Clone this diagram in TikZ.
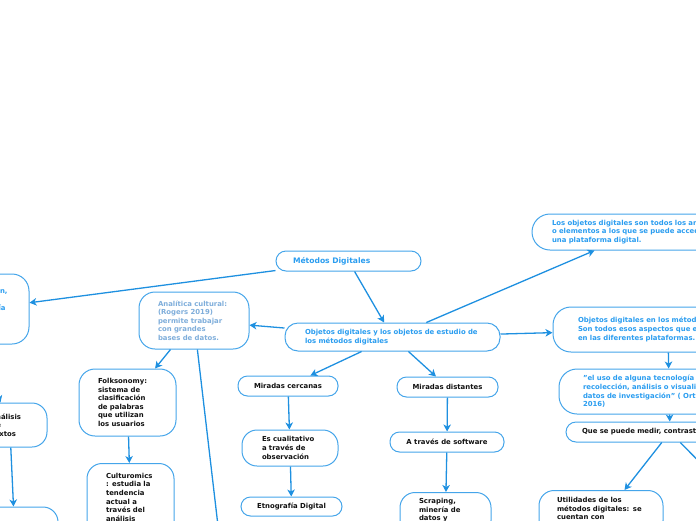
\documentclass[tikz,border=0pt]{standalone}
\usepackage{fontspec}
\setmainfont{DejaVu Sans}
\usepackage{tikz}
\usetikzlibrary{arrows.meta}
\definecolor{mmEdge}{HTML}{1E90E0}
\definecolor{mmBorder}{HTML}{45A5EA}
\definecolor{mmBlue}{HTML}{2A9DF0}
\definecolor{mmPale}{HTML}{7FAEDB}
\definecolor{mmInk}{HTML}{111111}
\newcommand{\mmsize}{\fontsize{6.9}{8.6}\selectfont\bfseries}
\tikzset{
  mmbox/.style={rectangle, rounded corners=#1, draw=mmBorder, line width=1pt,
                fill=white, text=mmInk, font=\mmsize, inner sep=0pt, align=left},
  mmbox/.default=15pt,
  mmflow/.style={-{Stealth[length=7pt, width=7.5pt, inset=2pt]}, line width=1.3pt, color=mmEdge},
  mmline/.style={line width=1.3pt, color=mmEdge},
}

\begin{document}
\begin{tikzpicture}[x=1pt, y=-1pt,
  pill/.style={mmbox=9.5pt, minimum height=20pt, align=center},
  cutbox/.style={mmbox=15pt, anchor=north}]
  \useasboundingbox (0,0) rectangle (696,520);
  \clip (0,0) rectangle (696,520);
  \node[mmbox=10pt, minimum width=145pt, minimum height=20pt, text width=111pt, text=mmBlue,
        font=\fontsize{7.6}{9}\selectfont\bfseries] (metodos) at (348.5,261) {Métodos Digitales};
  \node[mmbox=13pt, minimum width=215pt, minimum height=28pt, text width=175pt, text=mmBlue]
        (objetos) at (392.5,337) {Objetos digitales y los objetos de estudio de\\los métodos digitales};
  \node[mmbox=17pt, minimum width=95pt, minimum height=70pt, text width=57pt, text=mmBlue]
        (campo) at (-18.5,309) {investigación,\\\strut\\de etnografía\\\strut\\\strut};
  \node[mmbox=15pt, minimum width=74.5pt, minimum height=44pt, text width=36.5pt]
        (textos) at (9.75,425) {análisis\\de\\textos};
  \node[mmbox=15pt, minimum width=118pt, minimum height=73pt] (fuentes) at (-1,543.5) {};
  \node[mmbox=16pt, minimum width=110pt, minimum height=57pt, text width=72pt, text=mmPale]
        (analitica) at (194,320.5) {Analítica cultural:\\(Rogers 2019)\\permite trabajar\\con grandes\\bases de datos.};
  \node[mmbox=16pt, minimum width=97pt, minimum height=67pt, text width=59pt]
        (folk) at (127.5,402.5) {Folksonomy:\\sistema de\\clasificación\\de palabras\\que utilizan\\los usuarios};
  \node[cutbox, minimum width=87pt, text width=49pt, inner ysep=9.5pt]
        (cultur) at (130.5,463) {Culturomics\\: estudia la\\tendencia\\actual a\\través del\\análisis\\de datos};
  \node[pill, minimum width=100pt] (cercanas) at (288,386) {Miradas cercanas};
  \node[mmbox=15pt, minimum width=96pt, minimum height=36pt, text width=56pt]
        (cualitativo) at (290,448) {Es cualitativo\\a través de\\observación};
  \node[pill, minimum width=101pt, minimum height=19pt] (etno) at (291.5,506.5) {Etnografía Digital};
  \node[pill, minimum width=101pt] (distantes) at (447.5,387) {Miradas distantes};
  \node[pill, minimum width=114pt] (software) at (447,442) {A través de software};
  \node[cutbox, minimum width=91pt, text width=53pt, inner ysep=6pt]
        (scraping) at (445.5,492) {Scraping,\\minería de\\datos y\\textos};
  \node[mmbox=18pt, minimum width=300pt, minimum height=36pt, text width=260pt, text=mmBlue]
        (definicion) at (682,232) {Los objetos digitales son todos los archivos\\o elementos a los que se puede acceder desde\\una plataforma digital.};
  \node[mmbox=18pt, minimum width=230pt, minimum height=45pt, text width=180pt, text=mmBlue]
        (enmetodos) at (668,329.5) {Objetos digitales en los métodos\\Son todos esos aspectos que existen\\en las diferentes plataformas.};
  \node[mmbox=18pt, minimum width=220pt, minimum height=45pt, text width=172pt, text=mmBlue]
        (cita) at (669,391.5) {"el uso de alguna tecnología para la\\recolección, análisis o visualización de\\datos de investigación" ( Ortiz\\2016)};
  \node[mmbox=10pt, minimum width=208pt, minimum height=20pt, text width=176pt]
        (medir) at (670,432) {Que se puede medir, contrastar};
  \node[cutbox, minimum width=124pt, text width=88pt, inner ysep=7pt]
        (utilidades) at (601,490) {Utilidades de los\\métodos digitales: se\\cuentan con\\herramientas};
  \coordinate (haciaAbajo) at (222,560);
  \coordinate (haciaDerecha) at (730,493);
  \coordinate (desdeArriba) at (-15,350);
  \draw[mmflow] (metodos) -- (objetos);
  \draw[mmflow] (metodos) -- (campo);
  \draw[mmflow] (objetos) -- (analitica);
  \draw[mmflow] (objetos) -- ([xshift=63pt]definicion.south west);
  \draw[mmflow] (objetos) -- (enmetodos);
  \draw[mmflow] (objetos) -- (cercanas);
  \draw[mmflow] (objetos) -- (distantes);
  \draw[mmflow] (cercanas) -- (cualitativo);
  \draw[mmflow] (cualitativo) -- (etno);
  \draw[mmflow] (distantes) -- (software);
  \draw[mmflow] (software) -- (scraping);
  \draw[mmflow] (enmetodos) -- (cita);
  \draw[mmflow] (cita) -- (medir);
  \draw[mmflow] (medir) -- ([xshift=86pt]utilidades.north west);
  \draw[mmline] (medir) -- (haciaDerecha);
  \draw[mmflow] (analitica) -- (folk);
  \draw[mmflow] (folk) -- (cultur);
  \draw[mmline] (analitica) -- (haciaAbajo);
  \draw[mmflow] (textos) -- ([xshift=74pt]fuentes.north west);
  \draw[mmflow] (desdeArriba) -- ([xshift=28.5pt]textos.north west);
\end{tikzpicture}
\end{document}
